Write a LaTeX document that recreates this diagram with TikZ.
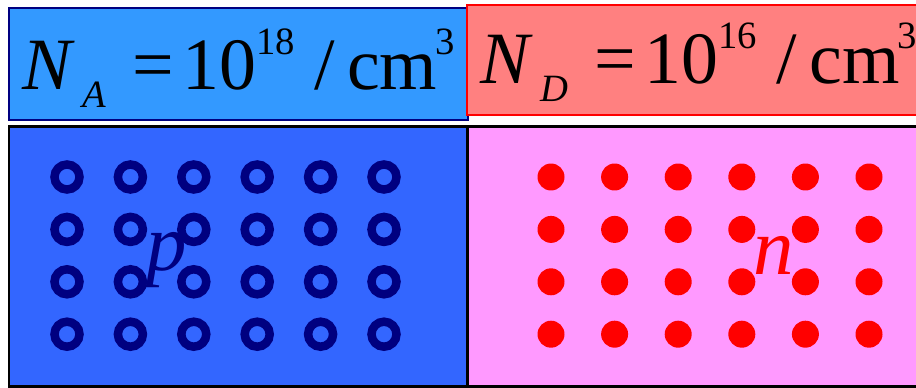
\documentclass[tikz,border=0pt]{standalone}
\usepackage{fontspec}
\setmainfont{Liberation Serif}
\definecolor{pnskyblue}{RGB}{51,153,255}
\definecolor{pnblue}{RGB}{51,102,255}
\definecolor{pnnavy}{RGB}{0,0,128}
\definecolor{pnsalmon}{RGB}{255,128,128}
\definecolor{pnpink}{RGB}{255,153,255}
\definecolor{pnred}{RGB}{255,0,0}

% Doping density label: N_x = 10^e / cm^3, spaced as in an equation editor.
\newcommand{\density}[2]{%
    \textit{N}\kern4.4pt\raisebox{-9.7pt}{\fontsize{22}{22}\selectfont\textit{#1}}%
    \kern15pt=\kern4.5pt10\raisebox{20pt}{\fontsize{22}{22}\selectfont #2}%
    \kern11.4pt/\kern6.8pt cm\kern-1pt\raisebox{20pt}{\fontsize{22}{22}\selectfont 3}}

\begin{document}
\begin{tikzpicture}[
    x=0.02cm, y=-0.02cm,
    conc/.style={anchor=base west, inner sep=0pt, font=\fontsize{42}{48}\selectfont},
    region/.style={anchor=base west, inner sep=0pt, font=\fontsize{46}{50}\selectfont\itshape},
    acceptor/.style={circle, draw=pnnavy, line width=0.17cm, minimum size=0.50cm, inner sep=0pt},
    donor/.style={circle, fill=pnred, minimum size=0.54cm, inner sep=0pt}
]
\useasboundingbox (0,0) rectangle (916,388);
\clip (0,0) rectangle (916,388);

% Concentration boxes on top, the red one laid over the blue one.
\draw[fill=pnskyblue, draw=pnnavy, line width=0.04cm] (9,8) rectangle (468,120);
\draw[fill=pnsalmon, draw=pnred, line width=0.03cm] (467,5) rectangle (930,115);
\node[conc] (NA) at (22,90) {\density{A}{18}};
\node[conc] (ND) at (480,84) {\density{D}{16}};

% The two sides of the junction.
\draw[fill=pnblue, draw=black, line width=0.06cm] (9,127) rectangle (467,386);
\draw[fill=pnpink, draw=black, line width=0.06cm] (467,127) rectangle (930,386);

% Ionised acceptors (rings) and donors (dots).
\foreach \i in {1,...,4} {
    \foreach \j in {1,...,6} {
        \pgfmathsetmacro{\y}{177+52.4*(\i-1)}
        \node[acceptor] (A\i\j) at ({67+63.4*(\j-1)},\y) {};
        \node[donor] (D\i\j) at ({551+63.6*(\j-1)},\y) {};
    }
}

\node[region, text=pnnavy] (p) at (146,271) {p};
\node[region, text=pnred] (n) at (753,275) {n};

\end{tikzpicture}
\end{document}
